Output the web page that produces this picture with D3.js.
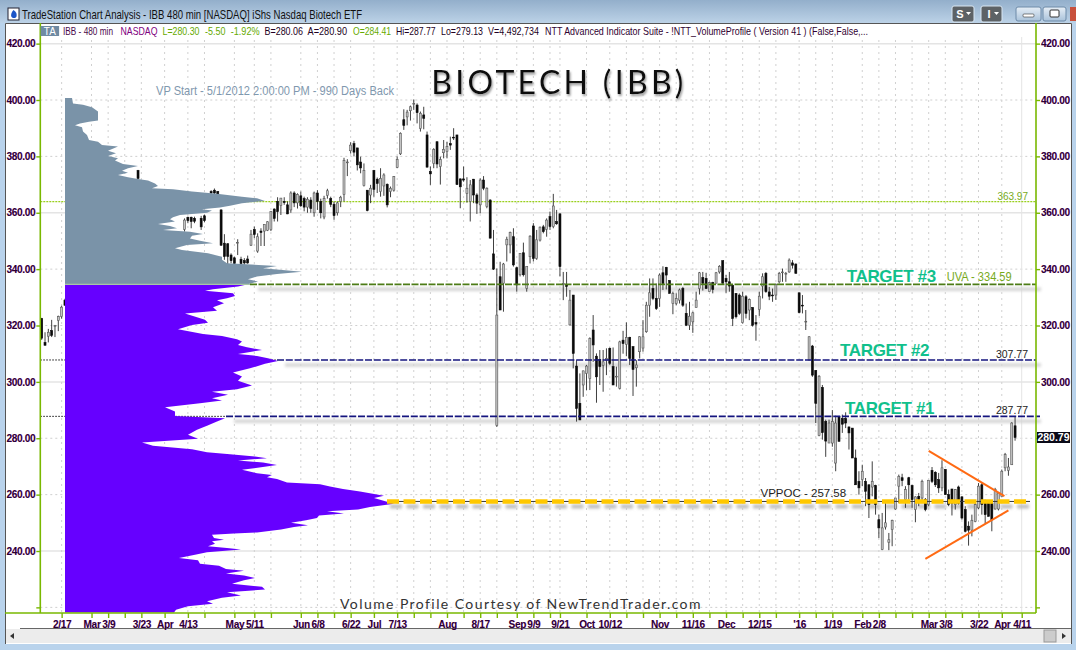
<!DOCTYPE html>
<html><head><meta charset="utf-8">
<style>
html,body{margin:0;padding:0;background:#fff;overflow:hidden}
svg{display:block}
text{font-family:"Liberation Sans",Arial,sans-serif}
.axis path{display:none}
.axis line{stroke:#79b800;stroke-width:1.4}
.axis text{font-size:10px;font-weight:700;fill:#2a0033;letter-spacing:-.3px;text-shadow:.5px 0 0 rgba(230,0,230,.35)}
</style>
<script src="https://cdnjs.cloudflare.com/ajax/libs/d3/7.8.5/d3.min.js"></script>
</head><body><div id="chart"></div>
<script>
// ---------- DATA ----------
const priceTicks = [420,400,380,360,340,320,300,280,260,240,220];
const rightHiddenLabels = [220,280];
const solidGridPrices = [420,360,300,240];
const tickSlots = [6,15,20,25,30,37,44,49,58,64,69,78,83,88,93,100,107,112,117,122,127,132,137,143,148,153,156,164,171,176,181,186,191,196,201,206,211,216,221,228,233,238,247,252,257,262,267,272,277,282,289,295];
const tickLabels = ["2/17","Mar","3/9","","3/23","Apr","4/13","","May","5/11","","Jun","6/8","","6/22","Jul","7/13","","","Aug","","8/17","","Sep","9/9","","9/21","Oct","10/12","","","Nov","","11/16","","Dec","","12/15","","'16","","1/19","Feb","2/8","","","Mar","3/8","","3/22","Apr","4/11"];

// candle rows: [high, low, open, close]
const barsStart = 0;
const barsFirst = [[322.7,314.9,322.5,315.5],[317.6,312.9,314,313],[318.8,314,316.2,317.6],[322,315.9,318.2,316.5],[320.2,315.9,320,320],[323.5,318,321.8,323.2],[327,322.4,323.2,326.5],[329.5,327,329,327.2]];
const barsSpikeStart = 29;
const barsSpike = [[375.2,371.9,375,372.2]];
const barsNotchStart = 43;
const barsNotch = [[358,353.3,354.1,357.4],[358.6,356.3,358.4,357.2],[358.6,354.5,358.4,356.9],[358.6,356.3,358,357],null,[358.9,353.9,358,355],[359.3,356.6,358.9,357.2],null,[368,366,367.5,367],[368.6,366.5,368,367],[367.7,366,367.5,366.5],
[361.2,348.2,361,348.5],[352.4,343.3,349.2,344.5],[349.2,341.8,349,344.5],[345.6,342.1,345,343],[344.4,341.5,344,342],[350.6,345,349.5,349.5],[344.4,341.5,343.5,342],[343.9,341.5,343,342.2],[344.8,341.9,343.6,342.2],
[353.9,348.2,348.5,352.4],[355.1,351,354,352.3],[352.7,345.8,346.4,351.5],[354.5,348.2,353.5,353],[355.9,348.2,353.5,355.9],[357,353.5,353.8,356.8],[360.4,353.5,354,360.4],[361.6,356.9,361.3,358],[365.5,356.9,364,360.4],[365.2,359.2,362.6,365.2],[365.5,362.8,364,363.6],[364,359.5,362.8,359.6]];
const barsPeakStart = 75;
const barsPeak = [[367.6,360,361,367],[367.6,362,367,363.5],[366.9,361.5,363.5,366.5],[367.5,362,366,362.5],[365.7,360.5,365,362],[365.5,360,362,364.8],[365.5,360,364.5,361.5],[367.5,358.6,360,367],[368,361,367,364],[365,358,364,360],[366,357.7,358.5,365],[368.5,365,366.2,367.8],[365.7,362,365,363],[364,357.5,363,359],[364,359,360,363.5],[366,362,364,365.5],[379.5,364,366.5,378.5],[379,373,378,378],[385,381,382,384],[385.5,380,384.5,381.5],[383,375,383,377],
[379.9,374,378,375.9],[377.5,369.3,369.6,375],[368,360.5,368,360.8],[369.9,363.4,366.3,368.7],[375.2,365.7,375,368.3],[372.5,367,371.9,370.4],[375.8,365.7,367.5,372.2],[374,366,369.5,373.4],[370.4,361.9,370.1,362.8],[369.3,365.5,367.5,368.7],[373,367.5,368,372.8],[380,375.8,376.1,378.9],[388.5,380.5,380.9,388.2],[396.7,389.4,393,391],[396.5,391,394,395.7],[398,392.7,396.2,397.6],[400.2,396.5,398.8,398.8],[398.8,391.7,398.2,395.5],[395.9,388.8,389.9,395.3],[397.6,389.6,394.7,393.5],
[388.8,376,387.6,376.2],[376.4,369.9,374.6,373.8],[382.9,375.8,377.5,382.5],[385.2,375.8,385.2,377.3],[379.9,370,376.4,378.9],[385.8,379.3,381.3,382.5],[385.2,379.3,381.7,383.5],[387,382.3,384.5,384],[390,385.8,386.8,386.6],[387.6,369.9,387.6,370],[372.2,361.6,372,369.2],[376.4,371,372,371.6],[372.6,363.6,366.9,368.7],[371.6,356.9,364,369.9],[372,363.4,371.9,366.3],[366.9,359.6,366.3,363.4],[372.2,359.8,362.8,371.6],[373,368,371.6,368.7],[369,361.6,362.2,368.7],[364.8,350.9,364.5,351],[353.9,339.7,345.4,340]];
const barsFallStart = 137;
const barsFall = [[340.2,284,284.5,323.7],[342.6,325.5,337.3,325.5],[342.2,324.9,335,341.8],[351.5,342.7,348.6,350.6],[353.3,345.6,348.6,353],[354.5,340.9,351.5,341.5],[340.9,332,340.5,334.4],[345.6,337.4,338,345.6],[349.4,337.4,345.8,338],[340.9,332,333.2,340.9],[352,342,344.4,351.7],[356.3,342.7,355.3,343.8],[353.9,343.3,343.8,350.4],[355.1,349.8,350.3,354.9],[355.7,352.7,355,353.3],[358,351.5,354.1,357.4],[360.4,353.9,358.6,355.1],[366.7,354.5,355.1,362.4],[361,355.7,356.9,356.1],[359.8,337.4,359.6,340.9],[339,329,334.9,334.9],[339,330.2,334.6,333.9],[332.6,320,320.2,329],[330.8,304.8,330.8,310.1],[307.7,285.9,305.6,290.6],[303,286.5,292.4,286.5]];
const barsRangeStart = 163;
const barsRange = [[304,294.7,298.9,303.9],[306,297,303,305.6],[315.8,297.1,301.2,315.4],[323.7,307.1,318.4,313.1],[310.1,292.6,309.1,301.8],[311.3,298.9,308,305.4],[311.3,296.5,305.9,307.1],[311.9,302.4,307.7,308.3],[312.2,306,311.9,306.6],[312.2,298.9,305.4,298.9],[305.4,298.3,302,302],[314.6,297.3,297.7,314.2],[318.1,310,314.8,313.6],[321.1,309.1,313.3,315.8],[316,306,315.8,308.3],[312.5,295,312.5,304.4],[307.7,298.3,305,306],[316.2,308.3,310.7,316],[321.9,310.7,312,316],[328.4,317.4,317.8,327.2],[336.7,323.1,327.2,331.6],[336.7,329,333.1,329.6],[334.9,325.5,329.6,326],[338.5,326.6,329.6,337.9],[341,332.6,338.7,334.9],[340.8,332.8,340.6,337.9],[336.1,331.4,335.9,331.4],[332,324,327.8,331.4],[331.4,327.2,327.8,329.6],[333.1,327.8,329,332.6],[333.7,326.6,333.1,327.2],[327.8,319.8,324.3,320.1],[328.4,318.4,320.1,323.3],[324.9,317.4,321.3,324.5],[332,326.4,326.4,329],[339,331,333.1,338.7],[339,332.4,337,335],[338.7,333.1,336.7,333.1]];
const barsTopStart = 201;
const barsTop = [[335.5,332,332,335.2],[335.5,331.4,335.2,332.8],[339,335,335,338.7],[341.4,338.4,339,341],[343,334.9,343,335],[337.9,331.6,336.7,335.5],[339,332,335.5,334],[334.3,319.8,334.3,322.5],[331.4,322.5,331.4,323.1],[331.4,323.7,330.8,324.3],[332,320.7,321,330.4],[330.8,322.5,330.2,324.3],[329.6,321.9,325.5,329.2],[326.4,319.6,326.4,320.1],[323.7,314.6,321,320.5],[332,323.4,325.7,330.4],[338.5,329.6,334,337.3],[339,331.6,338.5,332],[333.7,329,331.9,330.4],[333.1,328.4,330.8,330.6],[334.9,329.1,330.8,334.5],[339,334.9,335.5,338.5],[340.2,335.5,339,339],[339,335.5,338.5,338.5],[343.8,338.7,339,343.2],[343.2,340.2,342.2,341.4],[342,338.5,341.8,338.5]];
const barsDropStart = 228;
const barsDrop = [[331.6,324.3,331.6,324.6],[330.8,324.3,327.2,327],[325.5,318.4,321.5,321.5],[316.2,307.7,307.7,316],[313.1,301.8,312.7,302.4],[304.2,285.4,304,292.4],[302.4,280.7,281,302],[298.9,279.5,298,282],[286.6,273.4,286,279],[286.6,278.3,278.3,285.4],[290,277,278.3,286],[288,268.3,271.2,285.4],[287.8,278.9,287.8,278.9],[288.4,281.9,287,285],[289.2,283.6,287,285.4],[284.2,276,284,281.9],[283.6,273,283.6,273],[276,263.5,273,263.5]];
const barsBaseStart = 246;
const barsBase = [[268.3,260,264.7,262.4],[270.6,263,265.3,268.3],[265.9,255.9,264.7,261.2],[263.5,251.7,263.5,256.5],[271.8,259.4,262.7,264.7],[263.5,252.9,263.2,256.5],[252.9,244.6,251.1,248.2],[253.5,240.3,240.5,248.2],[257,247.6,248.5,250],[246.4,240.3,243.1,244],[251.1,241.7,247.6,250.9],[258.8,254.7,254.9,258.8],[267.1,257,263,266.5],[267.4,263,266,265],[263,255.3,258.2,261.8],[266.3,258.2,266,263.5],[263.5,255.3,263.2,258.2],[259.4,250.2,254.7,259.2],[260.6,255.9,259.4,258.2],[265.3,257,258.8,264.7],[258.8,254.1,258.2,254.7],[265.1,255.9,256.5,265.1],[269.8,264.1,268.6,264.7],[268.3,262.7,267.9,263.5],[267.7,260.6,265.3,262.4],[272.2,261.2,262.4,269.5],[269.1,260,268.9,260],[261.8,255.9,260,256.5],[262,252.6,262,257],[262,254.7,256.5,261.8],[263.2,256.5,262.7,257],[259.4,251.1,259.2,251.7],[255.9,246.6,254.7,247],[250.5,241.9,248.8,247.4],[252.9,245.2,247.4,250.9],[257,250.2,250.5,256.5],[264.1,254.9,255.3,263],[264.1,252.9,263.5,256.5],[258.2,249.7,257.3,252.9],[257,252.3,256.8,252.3],[257,247,256.8,251.1],[262.4,254.7,254.9,261.8],[260.8,254.4,254.9,260.6],[268.9,259.4,259.4,268.3],[274.8,268.3,269.5,274.2],[273,266.7,268.6,269.8],[285.7,270.6,270.6,285.4],[287.77,279.13,284.41,280.3]];

// volume profile outline, [price, relative volume]
const profileUpper = [[400.7,0],[400.7,7],[398.8,8],[398.3,18],[397.4,27],[395.9,33],[392.7,33],[392.3,24],[391.7,15],[391,10],[390.3,17],[388.8,18],[387.6,22],[385.8,24],[385.2,33],[384,37],[383.5,53],[382,43],[381.1,51],[380.1,43],[379.3,53],[378.5,50],[377.3,58],[376.6,73],[375.8,63],[374.9,57],[374.2,63],[373.4,53],[372.6,63],[372,73],[371.4,83],[370.4,90],[369.5,93],[368.7,87],[368.3,108],[367.5,127],[366.7,152],[365.7,177],[365.1,192],[364.2,200],[363.4,177],[362.5,165],[361.9,155],[361.2,137],[360.8,147],[360,142],[359.2,115],[358.4,108],[357.7,105],[356.9,110],[356,93],[355.3,105],[354.5,112],[353.9,98],[353.3,125],[352.5,138],[351.8,127],[350.9,125],[350.1,135],[349.2,148],[348.6,122],[347.4,110],[346.8,117],[345.6,143],[344.4,157],[343.3,157],[342.1,162],[341.1,212],[340.3,198],[339.1,237],[338.3,212],[337.4,192],[336.4,183],[335.6,193],[334.59,183],[334.59,0]];
const profileLower = [[334.59,0],[334.59,183],[333.8,173],[332.9,148],[332.3,140],[331.4,168],[330.5,170],[329.7,162],[329,152],[327.9,159],[326.5,148],[325.2,152],[324.3,120],[323.4,128],[322,140],[321,143],[320.2,127],[318.7,113],[317,138],[316.3,157],[315.1,172],[314.3,177],[313.1,173],[312.3,182],[311.3,197],[309.9,173],[309.2,192],[308.4,203],[307.4,213],[306.4,200],[304.8,185],[303.3,168],[301.9,177],[300.4,173],[298.7,187],[297.4,172],[296.5,147],[295.4,163],[294.2,147],[293.4,157],[292.4,135],[291,100],[289.5,110],[287.9,110],[287.1,160],[285.9,152],[284.4,142],[283,132],[281.2,123],[279.8,133],[278.5,77],[277.3,88],[276.1,127],[275,142],[274.3,165],[273.5,190],[272.9,202],[272.1,173],[271.4,198],[270.5,212],[268.8,177],[267.6,192],[267,207],[266.2,202],[265.5,212],[264.3,222],[263.7,255],[262.9,265],[262,278],[261.1,295],[259.6,319],[258.8,309],[256.8,329],[255.6,305],[254.7,293],[254.1,262],[253.3,279],[252.6,254],[251.7,252],[250.9,241],[250,226],[249.1,243],[248.5,229],[247.6,216],[246.6,192],[246.2,169],[245.8,147],[244.6,149],[244,159],[243.5,147],[242.6,150],[241.7,143],[241.1,162],[240.5,176],[239.6,142],[238.7,130],[237.5,114],[236.7,133],[235.5,135],[234.8,154],[233.6,161],[233,179],[232,161],[231.3,179],[230.4,190],[229.6,179],[228.4,167],[227.3,197],[226.3,200],[225.4,162],[224.2,176],[223.4,157],[222.2,142],[221.3,148],[220.4,123],[219.2,111],[218.2,109],[218.2,0]];

const vaHigh = 363.97, uva = 334.59, target2 = 307.77, target1 = 287.77, vppoc = 257.58;
const levelStartVolumes = {uva:185, target2:212, target1:161, vppoc:322};
const wedgeUpper = [[267,275.5],[289.8,259.5]];
const wedgeLower = [[266,237.2],[291,254.4]];
const lastPrice = "280.79";

// ---------- LAYOUT ----------
const W=1076,H=650, L=40.3,R=1036,T=23,B=613;
const yP = d3.scaleLinear().domain([400,240]).range([100,551]);
const xBar = d3.scaleLinear().domain([-0.42,299.3]).range([L,R]);
const xVol = d3.scaleLinear().domain([0,329]).range([65,394]);

const svg = d3.select("#chart").append("svg").attr("width",W).attr("height",H);
const defs = svg.append("defs");
const tg = defs.append("linearGradient").attr("id","tb").attr("x1",0).attr("x2",0).attr("y1",0).attr("y2",1);
tg.append("stop").attr("offset",0).attr("stop-color","#93afcb");
tg.append("stop").attr("offset",1).attr("stop-color","#bcd2e7");
const lb = defs.append("linearGradient").attr("id","btn").attr("x1",0).attr("x2",0).attr("y1",0).attr("y2",1);
lb.append("stop").attr("offset",0).attr("stop-color","#e6eef6");
lb.append("stop").attr("offset",1).attr("stop-color","#a9c2da");
defs.append("filter").attr("id","soft").attr("x","-2%").attr("width","104%").attr("y","-400%").attr("height","900%")
  .append("feGaussianBlur").attr("stdDeviation",1.8);
const ts = defs.append("filter").attr("id","tsh").attr("x","-5%").attr("width","110%").attr("y","-20%").attr("height","150%");
ts.append("feDropShadow").attr("dx",1).attr("dy",2).attr("stdDeviation",1.2).attr("flood-color","#999");
defs.append("clipPath").attr("id","plot").append("rect").attr("x",L).attr("y",T).attr("width",R-L).attr("height",B-T);

// window chrome
svg.append("rect").attr("width",W).attr("height",H).attr("fill","#b9d3ec");
svg.append("rect").attr("width",W).attr("height",23).attr("fill","url(#tb)");
svg.append("rect").attr("x",5).attr("y",23).attr("width",1067).attr("height",621).attr("fill","#fff");
svg.append("path").attr("d","M5.5 644V23.5H1071.5V644").attr("fill","none").attr("stroke","#555").attr("stroke-width",1);
svg.append("rect").attr("x",6).attr("y",629).attr("width",1065).attr("height",14).attr("fill","#ececec");
svg.append("line").attr("x1",20).attr("x2",1071).attr("y1",628.5).attr("y2",628.5).attr("stroke","#666");
svg.append("path").attr("d","M10 636l4-3v6z").attr("fill","#333");
svg.append("rect").attr("x",1044).attr("y",630).attr("width",12).attr("height",12).attr("fill","#ccc").attr("stroke","#999");
svg.append("path").attr("d","M1062 633l4 3-4 3z").attr("fill","#333");
svg.append("rect").attr("x",8).attr("y",8).attr("width",11).attr("height",12).attr("fill","#fff").attr("stroke","#223");
svg.append("path").attr("d","M13.5 10c3 2 3.5 4 3 6.5c-1 2-4 2-5.2 0c-.8-2 .5-4.5 2.2-6.5z").attr("fill","#1c55c8");
svg.append("text").attr("x",22).attr("y",18.5).attr("font-size",12.2).attr("fill","#111")
  .attr("textLength",340).attr("lengthAdjust","spacingAndGlyphs")
  .text("TradeStation Chart Analysis - IBB 480 min [NASDAQ] iShs Nasdaq Biotech ETF");
[[952,22,"S"],[981,21,"I"]].forEach(d=>{
  svg.append("rect").attr("x",d[0]).attr("y",6).attr("width",d[1]).attr("height",16).attr("rx",2).attr("fill","#5d6266").attr("stroke","#d9e6f2");
  svg.append("text").attr("x",d[0]+8).attr("y",18).attr("font-size",11).attr("font-weight",700).attr("fill","#fff").attr("text-anchor","middle").text(d[2]);
  svg.append("path").attr("d",`M${d[0]+d[1]-8} 12l5 0l-2.5 3z`).attr("fill","#fff");
});
[[1016,25],[1043,23]].forEach(d=>svg.append("rect").attr("x",d[0]).attr("y",7).attr("width",d[1]).attr("height",14).attr("rx",2).attr("fill","url(#btn)").attr("stroke","#6d8aa8"));
svg.append("rect").attr("x",1023).attr("y",14).attr("width",11).attr("height",3).attr("rx",1).attr("fill","#fff").attr("stroke","#333").attr("stroke-width",.6);
svg.append("rect").attr("x",1050).attr("y",10).attr("width",9).attr("height",7).attr("rx",1).attr("fill","#fff").attr("stroke","#333");
svg.append("rect").attr("x",1070).attr("y",7).attr("width",6).attr("height",14).attr("fill","#c8503c");

// grid
const grid = svg.append("g");
priceTicks.forEach(p=>{
  const solid = solidGridPrices.includes(p);
  grid.append("line").attr("x1",L).attr("x2",R).attr("y1",yP(p)).attr("y2",yP(p))
    .attr("stroke",solid?"#e4e4e4":"#cfcfcf").attr("stroke-width",solid?1.5:1).attr("stroke-dasharray",solid?null:"2,3");
});
tickSlots.forEach(s=>{
  if(s===tickSlots[tickSlots.length-1]){
    grid.append("line").attr("x1",xBar(s)).attr("x2",xBar(s)).attr("y1",T+14).attr("y2",B).attr("stroke","#e4e4e4");
  } else grid.append("line").attr("x1",xBar(s)).attr("x2",xBar(s)).attr("y1",T+17).attr("y2",B)
    .attr("stroke","#d0d0d0").attr("stroke-dasharray","2,4");
});

// VA high dotted and thin dotted left lead-ins
svg.append("line").attr("x1",L).attr("x2",R).attr("y1",yP(vaHigh)).attr("y2",yP(vaHigh)).attr("stroke","#9ad01e").attr("stroke-width",1.2).attr("stroke-dasharray","2,1");
[[target2,levelStartVolumes.target2],[target1,levelStartVolumes.target1]].forEach(d=>{
  svg.append("line").attr("x1",L).attr("x2",xVol(d[1])).attr("y1",yP(d[0])).attr("y2",yP(d[0])).attr("stroke","#111").attr("stroke-width",1).attr("stroke-dasharray","1.5,1.5");
});

// candles
const segments = [[barsStart,barsFirst],[barsSpikeStart,barsSpike],[barsNotchStart,barsNotch],[barsPeakStart,barsPeak],[barsFallStart,barsFall],[barsRangeStart,barsRange],[barsTopStart,barsTop],[barsDropStart,barsDrop],[barsBaseStart,barsBase]];
const candles = [];
segments.forEach(([st,rows])=>rows.forEach((r,i)=>{ if(r) candles.push({slot:st+i,high:r[0],low:r[1],open:r[2],close:r[3]}); }));

// gray shadows under levels
const shadows = svg.append("g").attr("filter","url(#soft)");
[[uva,levelStartVolumes.uva+8],[target2,levelStartVolumes.target2+8],[target1,levelStartVolumes.target1+8]].forEach(d=>{
  shadows.append("line").attr("x1",xVol(d[1])).attr("x2",1041).attr("y1",yP(d[0])+5).attr("y2",yP(d[0])+5).attr("stroke","#d4d4d4").attr("stroke-width",3.5);
});
shadows.append("line").attr("x1",xVol(levelStartVolumes.vppoc)+3).attr("x2",1030).attr("y1",yP(vppoc)+5).attr("y2",yP(vppoc)+5).attr("stroke","#bcbcbc").attr("stroke-width",4).attr("stroke-dasharray","12,4.5");

const cg = svg.append("g").attr("clip-path","url(#plot)");
const cs = cg.selectAll("g").data(candles).join("g");
cs.append("line").attr("x1",d=>xBar(d.slot)).attr("x2",d=>xBar(d.slot)).attr("y1",d=>yP(d.high)).attr("y2",d=>yP(d.low)).attr("stroke","#2a2a2a").attr("stroke-width",.9);
cs.append("rect").attr("x",d=>xBar(d.slot)-1).attr("width",2)
  .attr("y",d=>yP(Math.max(d.open,d.close))).attr("height",d=>Math.max(.8,Math.abs(yP(d.open)-yP(d.close))))
  .attr("fill",d=>d.close>=d.open?"#c4c4c4":"#0a0a0a").attr("stroke",d=>d.close>=d.open?"#555":"#0a0a0a").attr("stroke-width",.6);

// volume profile
const area = d3.area().y(d=>yP(d[0])).x0(xVol(0)).x1(d=>xVol(d[1]));
svg.append("path").datum(profileUpper).attr("d",area).attr("fill","#7a93a8");
svg.append("path").datum(profileLower).attr("d",area).attr("fill","#6600ff");
svg.append("line").attr("x1",xVol(0)).attr("x2",xVol(levelStartVolumes.uva)).attr("y1",yP(uva)).attr("y2",yP(uva)).attr("stroke","#a8c4a8").attr("stroke-width",1.4);

// levels
function lvl(p,v,col,w,dash,x2){ svg.append("line").attr("x1",xVol(v)).attr("x2",x2||R).attr("y1",yP(p)).attr("y2",yP(p)).attr("stroke",col).attr("stroke-width",w).attr("stroke-dasharray",dash); }
lvl(uva,levelStartVolumes.uva,"#4d7c17",1.7,"7,1.5");
lvl(target2,levelStartVolumes.target2,"#14147e",1.6,"7,1.8");
lvl(target1,levelStartVolumes.target1,"#14147e",1.6,"7,1.8",1040);
svg.append("line").attr("x1",xVol(levelStartVolumes.vppoc)).attr("x2",1030).attr("y1",yP(vppoc)).attr("y2",yP(vppoc)).attr("stroke","#333").attr("stroke-width",1);
lvl(vppoc,levelStartVolumes.vppoc,"#ffc800",4.5,"12,4.5",1030);

// wedge
[wedgeUpper,wedgeLower].forEach(w=>{
  svg.append("path").datum(w).attr("d",d3.line().x(d=>xBar(d[0])).y(d=>yP(d[1]))).attr("fill","none").attr("stroke","#ff6a13").attr("stroke-width",2);
});

// axes frame
svg.append("line").attr("x1",L).attr("x2",L).attr("y1",T).attr("y2",B).attr("stroke","#79b800").attr("stroke-width",1.6);
svg.append("line").attr("x1",R).attr("x2",R).attr("y1",T).attr("y2",B).attr("stroke","#79b800").attr("stroke-width",1.6);
svg.append("line").attr("x1",5).attr("x2",R).attr("y1",B).attr("y2",B).attr("stroke","#79b800").attr("stroke-width",1.6);

svg.append("g").attr("class","axis").attr("transform",`translate(${L},0)`)
  .call(d3.axisLeft(yP).tickValues(priceTicks).tickFormat(p=>p===220?"":p.toFixed(2)).tickSize(4).tickPadding(1));
svg.append("g").attr("class","axis").attr("transform",`translate(${R},0)`)
  .call(d3.axisRight(yP).tickValues(priceTicks).tickFormat(p=>rightHiddenLabels.includes(p)?"":p.toFixed(2)).tickSize(4).tickPadding(1));
svg.append("g").attr("class","axis").attr("transform",`translate(0,${B})`)
  .call(d3.axisBottom(xBar).tickValues(tickSlots).tickFormat((s,i)=>tickLabels[i]).tickSize(5).tickPadding(3));

// info line
svg.append("rect").attr("x",40.6).attr("y",26).attr("width",18.5).attr("height",10).attr("fill","#6f8aa3");
svg.append("text").attr("x",49.8).attr("y",35).attr("font-size",10).attr("fill","#fff").attr("text-anchor","middle").text("TA");
const info=[[63,50,"IBB - 480 min","#4a0a4a"],[120.5,37,"NASDAQ","#800080"],[162.5,37,"L=280.30","#66aa00"],[205,20.5,"-5.50","#66aa00"],[230.7,29,"-1.92%","#66aa00"],[264.5,38.5,"B=280.06","#220022"],[307.5,39.6,"A=280.90","#220022"],[353,38,"O=284.41","#66aa00"],[396,39.6,"Hi=287.77","#220022"],[441,42,"Lo=279.13","#220022"],[488,51,"V=4,492,734","#220022"],[545,323,"NTT Advanced Indicator Suite - !NTT_VolumeProfile ( Version 41 ) (False,False,...","#300030"]];
info.forEach(d=>svg.append("text").attr("x",d[0]).attr("y",35).attr("font-size",10.5).attr("fill",d[3]).attr("textLength",d[1]).attr("lengthAdjust","spacingAndGlyphs").attr("style","-webkit-text-stroke:.2px "+d[3]).text(d[2]));

// annotations
svg.append("text").attr("x",156).attr("y",95).attr("font-size",12).attr("fill","#7f98ae").attr("textLength",238).attr("lengthAdjust","spacingAndGlyphs").text("VP Start - 5/1/2012 2:00:00 PM - 990 Days Back");
svg.append("text").attr("x",559).attr("y",93.5).attr("text-anchor","middle").attr("font-size",32).attr("letter-spacing","3.3px").attr("fill","#0c0c0c").attr("filter","url(#tsh)").attr("style","font-family:Lato,'Open Sans',sans-serif;font-weight:400").text("BIOTECH (IBB)");
svg.append("text").attr("x",340).attr("y",609).attr("font-size",14).attr("letter-spacing","1.42px").attr("fill","#333").attr("style","font-family:Lato,'Open Sans',sans-serif").text("Volume Profile Courtesy of NewTrendTrader.com");
[[846.7,282,"TARGET #3"],[840,356,"TARGET #2"],[845,414,"TARGET #1"]].forEach(d=>
  svg.append("text").attr("x",d[0]).attr("y",d[1]).attr("font-size",17).attr("font-weight",700).attr("letter-spacing","-.35px").attr("fill","#10c08c").text(d[2]));
svg.append("text").attr("x",946.7).attr("y",281).attr("font-size",12.4).attr("fill","#77aa1c").attr("textLength",65).attr("lengthAdjust","spacingAndGlyphs").text("UVA - 334.59");
svg.append("text").attr("x",1028).attr("y",199.5).attr("text-anchor","end").attr("font-size",10).attr("fill","#77aa1c").text(vaHigh.toFixed(2));
svg.append("text").attr("x",1028).attr("y",358).attr("text-anchor","end").attr("font-size",10.5).attr("fill","#222").text(target2.toFixed(2));
svg.append("text").attr("x",1028).attr("y",414).attr("text-anchor","end").attr("font-size",10.5).attr("fill","#222").text(target1.toFixed(2));
svg.append("text").attr("x",760.5).attr("y",497).attr("font-size",11.5).attr("fill","#222").text("VPPOC - "+vppoc.toFixed(2));

// last price tag
svg.append("rect").attr("x",1037).attr("y",432).attr("width",33).attr("height",11).attr("fill","#0a0a18");
svg.append("text").attr("x",1053.5).attr("y",441).attr("text-anchor","middle").attr("font-size",10.5).attr("font-weight",700).attr("fill","#fff").text(lastPrice);
</script></body></html>
